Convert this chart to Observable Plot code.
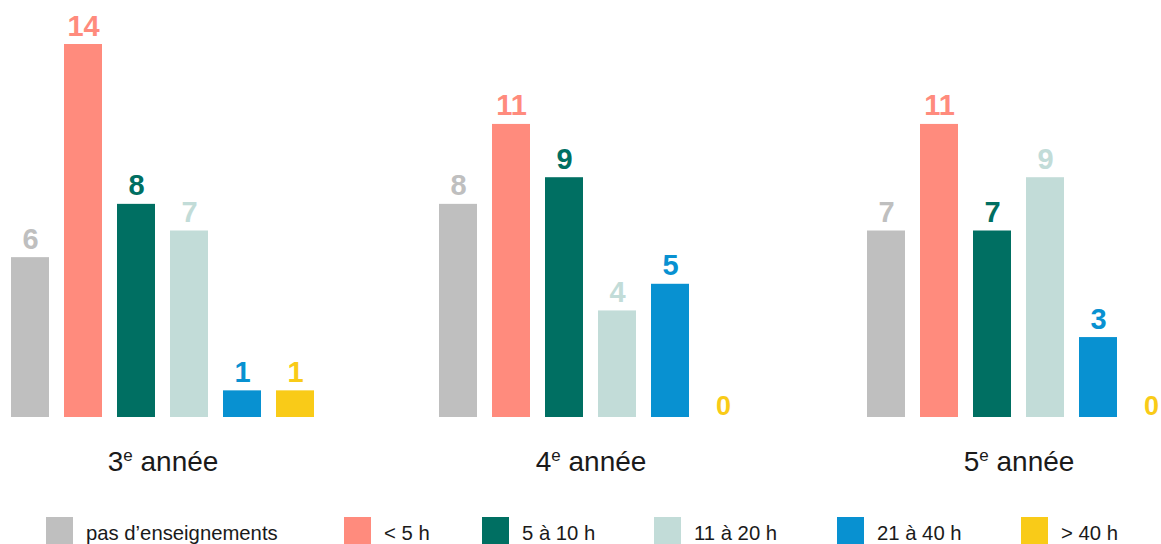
<!DOCTYPE html>
<html><head><meta charset="utf-8">
<script src="https://cdn.jsdelivr.net/npm/d3@7"></script>
<script src="https://cdn.jsdelivr.net/npm/@observablehq/plot@0.6"></script>
<style>
body{margin:0;background:#fff;font-family:"Liberation Sans",Arial,sans-serif;overflow:hidden}
#chart svg{display:block}
#legend{position:relative;margin-top:17px;font-size:20.3px;color:#1a1a1a;height:27px}
.item{position:absolute;top:0;display:flex;align-items:center;height:27px}
.sw{width:27px;height:27px;margin-right:13px;flex:none}
.lb{position:relative;top:3px;white-space:nowrap}
</style></head><body>
<div id="chart"></div><div id="legend"></div>
<script>
const groups = ["3e année", "4e année", "5e année"];
const categories = ["pas d’enseignements", "< 5 h", "5 à 10 h", "11 à 20 h", "21 à 40 h", "> 40 h"];
const colors = ["#bfbfbf", "#ff8b7d", "#006f62", "#c2dcd8", "#0891d1", "#f9cb18"];
const values3e = [6, 14, 8, 7, 1, 1];
const values4e = [8, 11, 9, 4, 5, 0];
const values5e = [7, 11, 7, 9, 3, 0];

const series = [values3e, values4e, values5e];
const data = groups.flatMap((g, i) => categories.map((c, j) => ({group: g, cat: c, value: series[i][j]})));

const plot = Plot.plot({
  width: 1161,
  height: 500,
  marginTop: 44,
  marginBottom: 83,
  marginLeft: 11,
  marginRight: -9,
  style: {fontFamily: "'Liberation Sans', Arial, sans-serif", background: "#fff"},
  fx: {domain: groups, paddingInner: 125 / 428, paddingOuter: 0, axis: null},
  x: {domain: categories, paddingInner: 15 / 53, paddingOuter: 0, axis: null},
  y: {domain: [0, 14], axis: null},
  color: {domain: categories, range: colors},
  marks: [
    Plot.barY(data, {fx: "group", x: "cat", y: "value", fill: "cat"}),
    Plot.text(data.filter(d => d.value > 0), {fx: "group", x: "cat", y: "value", text: d => String(d.value), fill: "cat", dy: -9, lineAnchor: "bottom", fontSize: 29, fontWeight: "bold"}),
    Plot.text(data.filter(d => d.value === 0), {fx: "group", x: "cat", y: "value", text: d => String(d.value), fill: "cat", dy: -3, lineAnchor: "bottom", fontSize: 27, fontWeight: "bold"}),
    Plot.text(groups, {fx: d => d, text: d => d, frameAnchor: "bottom", lineAnchor: "bottom", dy: 53, fontSize: 28, fill: "#1a1a1a"})
  ]
});

const ns = "http://www.w3.org/2000/svg";
plot.querySelectorAll("text").forEach(t => {
  const m = t.textContent.match(/^(\d)e (.*)$/);
  if (m) {
    t.textContent = "";
    const a = document.createElementNS(ns, "tspan"); a.textContent = m[1];
    const b = document.createElementNS(ns, "tspan"); b.textContent = "e"; b.setAttribute("font-size", "17"); b.setAttribute("dy", "-10");
    const c = document.createElementNS(ns, "tspan"); c.textContent = " " + m[2]; c.setAttribute("dy", "10");
    t.append(a, b, c);
  }
});
document.getElementById("chart").append(plot);

const legendLeft = [46, 344, 482, 654, 837, 1021];
const legend = document.getElementById("legend");
categories.forEach((c, i) => {
  const it = document.createElement("div"); it.className = "item"; it.style.left = legendLeft[i] + "px";
  const sw = document.createElement("div"); sw.className = "sw"; sw.style.background = colors[i];
  const lb = document.createElement("span"); lb.className = "lb"; lb.textContent = c;
  it.append(sw, lb); legend.append(it);
});
</script>
</body></html>
